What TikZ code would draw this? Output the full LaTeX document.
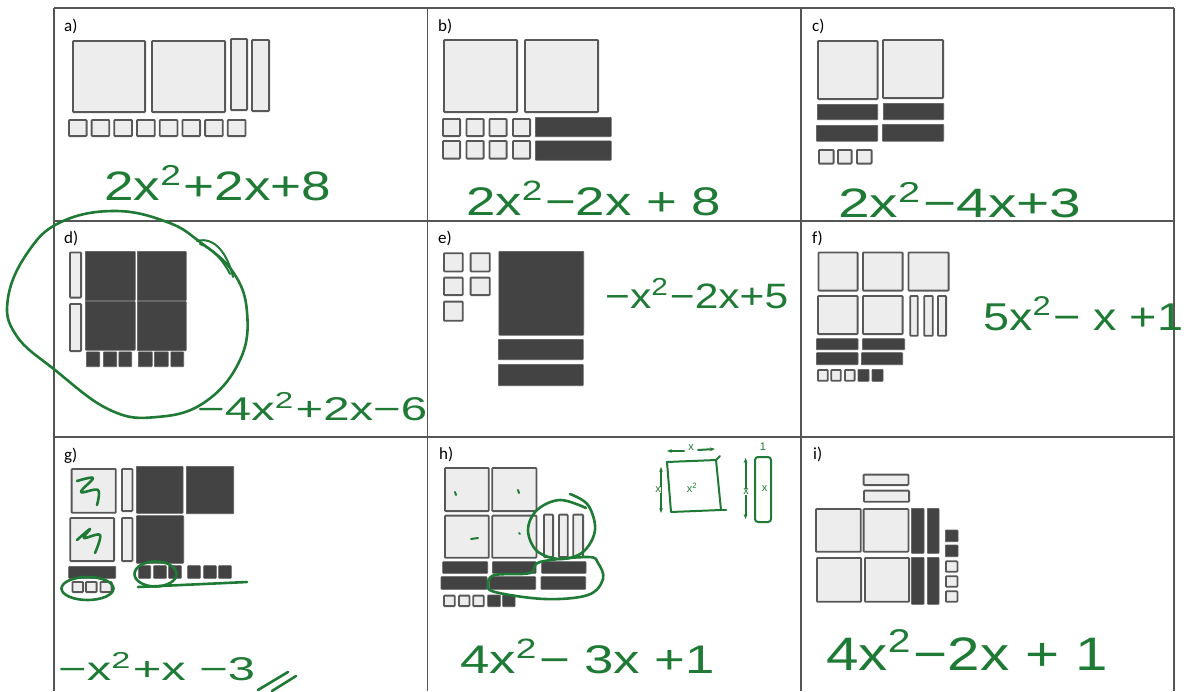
\documentclass[tikz,border=0pt]{standalone}
\usepackage{fontspec}
\setmainfont{Carlito}
\newfontfamily\hwfont{Liberation Sans}
\usetikzlibrary{arrows.meta}
\definecolor{lightfill}{RGB}{237,237,237}
\definecolor{tileedge}{RGB}{88,88,88}
\definecolor{darkfill}{RGB}{67,67,67}
\definecolor{darkedge}{RGB}{90,90,90}
\definecolor{gridc}{RGB}{85,85,85}
\definecolor{pen}{RGB}{30,122,52}
\tikzset{
 lt/.style={fill=lightfill, draw=tileedge, line width=1.8pt, rounded corners=0.8pt},
 dk/.style={fill=darkfill, draw=darkedge, line width=0.6pt, rounded corners=0.8pt},
 gridline/.style={draw=gridc, line width=1.1pt},
 lbl/.style={font=\fontsize{17}{17}\selectfont, anchor=west, inner sep=0pt},
 ink/.style={draw=pen, line width=2.6pt, line cap=round, line join=round},
 thinink/.style={draw=pen, line width=2pt, line cap=round, line join=round},
 hw/.style={text=pen, anchor=base west, inner sep=0pt},
 sk/.style={text=pen, inner sep=0pt, font=\hwfont\fontsize{11}{11}\selectfont},
}
\newcommand{\hwt}[3]{\resizebox{#1pt}{#2pt}{\hwfont #3}}
\newcommand{\lighttile}[4]{\draw[lt] (#1+0.9,#2+0.9) rectangle (#3-0.9,#4-0.9);}
\newcommand{\darktile}[4]{\draw[dk] (#1+0.3,#2+0.3) rectangle (#3-0.3,#4-0.3);}
\begin{document}
\begin{tikzpicture}[x=1pt,y=-1pt]
\useasboundingbox (0,0) rectangle (1191,691);
% grid
\draw[gridline] (54,8) -- (1174,8);
\draw[gridline] (54,221) -- (1174,221);
\draw[gridline] (54,437) -- (1174,437);
\draw[gridline] (54,8) -- (54,691);
\draw[gridline] (427.5,8) -- (427.5,691);
\draw[gridline] (801,8) -- (801,691);
\draw[gridline] (1174,8) -- (1174,691);
% labels
\node[lbl] (la) at (64,26) {a)};
\node[lbl] (lb) at (438,26) {b)};
\node[lbl] (lc) at (812,26) {c)};
\node[lbl] (ld) at (64,238) {d)};
\node[lbl] (le) at (438,238) {e)};
\node[lbl] (lf) at (812,238) {f)};
\node[lbl] (lg) at (64,456) {g)};
\node[lbl] (lh) at (439,454) {h)};
\node[lbl] (li) at (813,454) {i)};
% a
\lighttile{72}{40}{146}{113}
\lighttile{151}{40}{226}{113}
\lighttile{230}{38}{248}{111}
\lighttile{251}{39}{270}{112}
\foreach \i in {0,...,7} {\lighttile{68+22.7*\i}{119}{87.5+22.7*\i}{137}}
% b
\lighttile{443}{39}{518}{113}
\lighttile{524}{39}{599}{113}
\foreach \xx in {442,465.5,488.5,512} {\lighttile{\xx}{118}{\xx+19}{137}\lighttile{\xx}{140}{\xx+19}{159.5}}
\darktile{535}{117}{611.5}{137}
\darktile{535}{140.5}{611.5}{160.5}
% c
\lighttile{817}{40}{878.5}{100}
\lighttile{882}{39}{944}{99}
\darktile{817}{104}{878}{120}
\darktile{883}{103}{944}{120}
\darktile{816}{125}{878}{141.5}
\darktile{882}{124}{944}{141.5}
\lighttile{818}{149}{834.5}{164.5}
\lighttile{837}{149}{852.5}{164.5}
\lighttile{856}{149}{872.5}{164.5}
% d
\lighttile{69}{251.5}{82}{298.5}
\lighttile{69}{303}{82}{352}
\darktile{85}{251}{135.5}{301}
\darktile{85}{301}{135.5}{350.5}
\darktile{137}{251}{186.5}{301}
\darktile{137}{301}{186.5}{351}
\foreach \a/\b in {86/100,103/117,118.5/132,138/152.5,154/168.5,170.5/184} {\darktile{\a}{351.5}{\b}{367}}
% e
\lighttile{443}{252.3}{463.7}{272.3}
\lighttile{469.7}{252.3}{490.7}{272.3}
\lighttile{443}{276.7}{463.7}{296}
\lighttile{469.7}{276.7}{490.7}{296}
\lighttile{443}{300.7}{463.7}{321.7}
\darktile{498.5}{251}{584}{335.5}
\darktile{498}{339}{583.5}{360}
\darktile{498}{364}{583.5}{386}
% f
\lighttile{817.5}{251.5}{858.5}{291.5}
\lighttile{862}{251.5}{903.5}{291.5}
\lighttile{907.5}{251.5}{949.5}{291.5}
\lighttile{817}{295}{858.5}{335}
\lighttile{862}{295}{903.5}{335}
\lighttile{909.3}{295}{918.7}{336.7}
\lighttile{923.3}{295}{933.7}{336.7}
\lighttile{937}{295}{947}{336.7}
\darktile{816}{338.3}{858.3}{350}
\darktile{862}{338.3}{905}{350}
\darktile{816}{352.3}{858.3}{365}
\darktile{861}{352.3}{903}{365}
\lighttile{817}{369}{828.7}{381.7}
\lighttile{830.3}{369}{841.7}{381.7}
\lighttile{844}{369}{855.5}{381.7}
\darktile{857.7}{369}{869.3}{381.7}
\darktile{871.7}{369}{883.3}{381.7}
% g
\lighttile{70.7}{468}{116.7}{513.7}
\lighttile{69.3}{517}{115}{562}
\lighttile{121}{468}{133.3}{512}
\lighttile{121}{517}{133.3}{562}
\darktile{136}{466}{183.3}{513.7}
\darktile{186}{466}{234}{514}
\darktile{136}{515.3}{184}{563.7}
\darktile{68.3}{566}{116}{578.7}
\lighttile{71.5}{581}{84}{593}
\lighttile{85}{581}{97.5}{593}
\lighttile{99.5}{581}{112.5}{593}
\foreach \a/\b in {138.3/151,153.3/166.7,168.3/181.7,187.3/200.7,203.3/216.7,218.3/231.7} {\darktile{\a}{565.3}{\b}{578.7}}
% h
\lighttile{444}{467}{489.7}{512}
\lighttile{491.3}{467}{537.3}{512}
\lighttile{444}{514.7}{489.7}{558.7}
\lighttile{491.3}{514.7}{537.3}{558.7}
\lighttile{543}{513.7}{554}{558}
\lighttile{558}{513.7}{568.7}{558}
\lighttile{572.3}{513.7}{584}{558}
\darktile{442.3}{561.3}{488}{573.7}
\darktile{492}{561.3}{536.3}{573.7}
\darktile{541.3}{561.3}{586.3}{573.7}
\darktile{440.7}{576.3}{487.3}{589.7}
\darktile{489.3}{576.3}{536}{589.7}
\darktile{540.7}{576.3}{586}{589.7}
\lighttile{443}{594.7}{455.7}{607}
\lighttile{458}{594.7}{470.3}{607}
\lighttile{472.3}{594.7}{484.7}{607}
\darktile{487.3}{594.7}{500.7}{607}
\darktile{502.3}{594.7}{515.3}{607}
% i
\lighttile{862.7}{473.7}{909.3}{486}
\lighttile{863}{489.7}{910}{502.7}
\lighttile{815}{508}{861.7}{552.7}
\lighttile{862.7}{508}{909.3}{552.7}
\lighttile{816}{557}{862}{602.7}
\lighttile{864}{557}{910}{602.7}
\darktile{911}{508}{924.3}{553.7}
\darktile{927}{508}{939.3}{553.7}
\darktile{911}{557}{924.3}{604.7}
\darktile{927}{557}{939.3}{604.7}
\darktile{945}{529.7}{958.3}{542}
\darktile{945}{544.7}{958.3}{557}
\lighttile{945}{560.3}{958.3}{572.7}
\lighttile{945}{575.3}{958.3}{587.7}
\lighttile{945}{590.3}{958.3}{602.7}
% handwritten expressions
\node[hw] (ea) at (104,200) {\hwt{227}{35}{2x\textsuperscript{2}+2x+8}};
\node[hw] (eb) at (466,215) {\hwt{255}{34}{2x\textsuperscript{2}−2x + 8}};
\node[hw] (ec) at (838,217) {\hwt{243}{35}{2x\textsuperscript{2}−4x+3}};
\node[hw] (ed) at (197,420) {\hwt{230}{28}{−4x\textsuperscript{2}+2x−6}};
\node[hw] (ee) at (605,308) {\hwt{183}{30}{−x\textsuperscript{2}−2x+5}};
\node[hw] (ef) at (983,330) {\hwt{200}{33}{5x\textsuperscript{2}− x +1}};
\node[hw] (eg) at (58,680) {\hwt{197}{28}{−x\textsuperscript{2}+x −3}};
\node[hw] (eh) at (460,673) {\hwt{255}{34}{4x\textsuperscript{2}− 3x +1}};
\node[hw] (ei) at (826,670) {\hwt{282}{40}{4x\textsuperscript{2}−2x + 1}};
% d annotations
\draw[ink] plot[smooth cycle, tension=0.7] coordinates {(8,298) (28,252) (61,222) (115,211) (167,222) (200,242) (233,272) (247,312) (240,360) (205,402) (157,417) (110,410) (55,370) (16,335)};
\draw[thinink] (197,241) .. controls (215,236) and (228,255) .. (233,277);
\draw[thinink] (230,274) .. controls (222,258) and (210,247) .. (200,244);
% g annotations
\draw[ink] plot[smooth, tension=0.6] coordinates {(77,481) (93,478) (81,492) (98,490) (97,505)};
\draw[ink] plot[smooth, tension=0.6] coordinates {(77,540) (90,529) (84,538) (100,535) (95,553)};
\draw[ink] (87.5,588.5) ellipse [x radius=26pt, y radius=11.5pt];
\draw[ink] (155.5,574) ellipse [x radius=21pt, y radius=12.5pt];
\draw[ink] (138,587) -- (247,582);
\draw[ink] (258,690) -- (288,672);
\draw[ink] (272,691) -- (296,676);
% h annotations
\draw[ink] plot[smooth, tension=0.6] coordinates {(570,494) (588,505) (595,530) (583,552) (560,559) (537,551) (528,530) (537,510) (560,500) (586,508)};
\draw[ink] plot[smooth cycle, tension=0.6] coordinates {(588,557) (540,562) (530,573) (495,575) (488,584) (495,592) (545,599) (588,595) (603,579) (598,563)};
\draw[thinink] (455,492) -- (456,495);
\draw[thinink] (518,490) -- (519,493);
\draw[thinink] (471,539) -- (478,538);
\draw[thinink] (519,533) -- (520,534);
% h sketch
\draw[thinink, -{Stealth[length=5pt]}] (684,451) -- (667,451);
\node[sk] (skx1) at (691,448) {x};
\draw[thinink, -{Stealth[length=5pt]}] (698,450) -- (715,449);
\draw[thinink] (667,462) -- (716,460) -- (721,510) -- (671,512) -- cycle;
\draw[thinink] (716,460) -- (720,456);
\draw[thinink] (721,510) -- (726,510);
\node[sk] (skx2) at (692,488) {x\textsuperscript{2}};
\draw[thinink, {Stealth[length=5pt]}-{Stealth[length=5pt]}] (661,467) -- (661,513);
\node[sk, fill=white] (skx3) at (658,490) {x};
\draw[thinink, rounded corners=3pt] (755,457) rectangle (771,522);
\node[sk] (skx4) at (764.5,489) {x};
\draw[thinink, {Stealth[length=5pt]}-{Stealth[length=5pt]}] (745.5,458) -- (745.5,519);
\node[sk, fill=white] (skx5) at (746,492) {x};
\node[sk] (sk1) at (763,447) {1};
\end{tikzpicture}
\end{document}
